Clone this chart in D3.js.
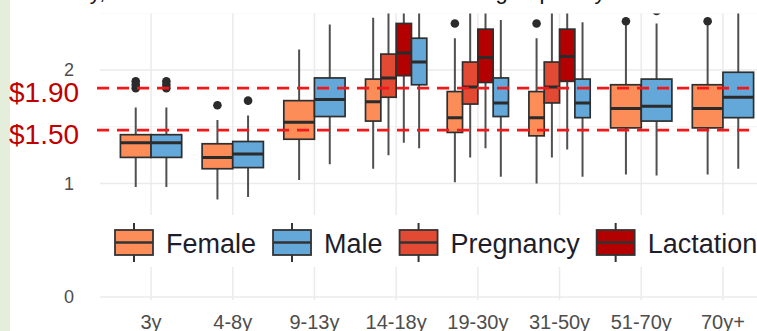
<!DOCTYPE html>
<html>
<head>
<meta charset="utf-8">
<script src="https://cdn.jsdelivr.net/npm/d3@7/dist/d3.min.js"></script>
<style>
  body { margin: 0; background: #fff; }
  svg { display: block; }
</style>
</head>
<body>
<div id="chart"></div>
<script>
var ageGroups = ["3y", "4-8y", "9-13y", "14-18y", "19-30y", "31-50y", "51-70y", "70y+"];
var seriesNames = ["Female", "Male", "Pregnancy", "Lactation"];
// order inside each age group, left to right
var dodgeOrder = ["Female", "Pregnancy", "Lactation", "Male"];

// [lower whisker, q1, median, q3, upper whisker] per age group
var femaleStats = [
  [0.97, 1.23, 1.36, 1.43, 1.67],
  [0.86, 1.13, 1.23, 1.35, 1.56],
  [1.03, 1.39, 1.54, 1.73, 2.18],
  [1.13, 1.55, 1.72, 1.92, 2.46],
  [1.01, 1.45, 1.58, 1.81, 2.28],
  [1.00, 1.42, 1.58, 1.81, 2.28],
  [1.08, 1.49, 1.66, 1.87, 2.40],
  [1.08, 1.49, 1.66, 1.87, 2.40]
];
var maleStats = [
  [0.97, 1.23, 1.36, 1.43, 1.67],
  [0.88, 1.14, 1.26, 1.37, 1.60],
  [1.17, 1.59, 1.74, 1.93, 2.40],
  [1.31, 1.87, 2.07, 2.28, 2.70],
  [1.06, 1.59, 1.71, 1.93, 2.44],
  [1.06, 1.58, 1.71, 1.92, 2.42],
  [1.07, 1.55, 1.68, 1.92, 2.41],
  [1.13, 1.58, 1.76, 1.98, 2.70]
];
var pregnancyStats = [null, null, null,
  [1.25, 1.76, 1.93, 2.14, 2.70],
  [1.23, 1.70, 1.85, 2.07, 2.70],
  [1.23, 1.71, 1.85, 2.07, 2.70],
  null, null];
var lactationStats = [null, null, null,
  [1.36, 1.95, 2.15, 2.41, 2.75],
  [1.31, 1.89, 2.11, 2.36, 2.75],
  [1.30, 1.90, 2.12, 2.36, 2.75],
  null, null];

var femaleOutliers = [[1.84, 1.87, 1.90], [1.69], [], [], [2.41], [2.41], [2.43], [2.43]];
var maleOutliers = [[1.84, 1.87, 1.90], [1.73], [], [], [], [], [2.52], []];

var seriesColours = ["#FC8D59", "#63A8D8", "#E34A33", "#B30000"];

var yBreaks = [0, 1, 2];
var yMinor = [0.5, 1.5, 2.5];

// reference price lines, where they sit on the axis, and their labels
var priceLevels = [1.84, 1.47];
var priceLabels = ["$1.90", "$1.50"];

var statsBySeries = {
  "Female": femaleStats, "Male": maleStats,
  "Pregnancy": pregnancyStats, "Lactation": lactationStats
};
var outliersBySeries = { "Female": femaleOutliers, "Male": maleOutliers };

var width = 757, height = 331;

var svg = d3.select("#chart").append("svg")
    .attr("width", width)
    .attr("height", height)
    .style("font-family", "'Liberation Sans', Arial, sans-serif");

var colour = d3.scaleOrdinal().domain(seriesNames).range(seriesColours);

var x = d3.scaleBand().domain(ageGroups).range([110.2, 763.8]).padding(0);
var y = d3.scaleLinear().domain([0, 2]).range([297, 70]);

// green slide edge
svg.append("rect").attr("x", 0).attr("y", 0).attr("width", 10).attr("height", height)
    .attr("fill", "#E4EEDB");

// title line above the plot, mostly cut off by the top edge
svg.append("text")
    .attr("x", 14).attr("y", -1)
    .attr("font-size", 22).attr("fill", "#111")
    .text("Cost/day, of the least-cost nutrient-rich diet when grouped by sex");

svg.append("defs").append("clipPath").attr("id", "plotclip")
  .append("rect").attr("x", 0).attr("y", 13.5).attr("width", width).attr("height", height);

var plot = svg.append("g").attr("clip-path", "url(#plotclip)");

// grid
plot.selectAll(".minor").data(yMinor).enter().append("line")
    .attr("x1", 100).attr("x2", width)
    .attr("y1", function (d) { return y(d); }).attr("y2", function (d) { return y(d); })
    .attr("stroke", "#F2F2F2").attr("stroke-width", 1);
plot.selectAll(".major").data(yBreaks).enter().append("line")
    .attr("x1", 100).attr("x2", width)
    .attr("y1", function (d) { return y(d); }).attr("y2", function (d) { return y(d); })
    .attr("stroke", "#EBEBEB").attr("stroke-width", 1.5);
plot.selectAll(".vgrid").data(ageGroups).enter().append("line")
    .attr("x1", function (d) { return x(d) + x.bandwidth() / 2; })
    .attr("x2", function (d) { return x(d) + x.bandwidth() / 2; })
    .attr("y1", 0).attr("y2", 300)
    .attr("stroke", "#EBEBEB").attr("stroke-width", 1.5);

// y labels
svg.selectAll(".ylab").data(yBreaks).enter().append("text")
    .attr("x", 74).attr("y", function (d) { return y(d); })
    .attr("dy", "0.36em").attr("text-anchor", "end")
    .attr("font-size", 18).attr("fill", "#4D4D4D")
    .text(function (d) { return d; });

// x labels (bottom of the text is cut by the frame)
svg.selectAll(".xlab").data(ageGroups).enter().append("text")
    .attr("x", function (d) { return x(d) + x.bandwidth() / 2; })
    .attr("y", 329).attr("text-anchor", "middle")
    .attr("font-size", 20).attr("fill", "#4D4D4D")
    .text(function (d) { return d; });

// build one record per box
var boxes = [];
ageGroups.forEach(function (g, i) {
    var present = dodgeOrder.filter(function (s) { return statsBySeries[s][i]; });
    var inner = d3.scaleBand().domain(present)
        .range([x(g) + x.bandwidth() * 0.125, x(g) + x.bandwidth() * 0.875]);
    present.forEach(function (s) {
        var st = statsBySeries[s][i];
        boxes.push({
            series: s, x0: inner(s), w: inner.bandwidth(),
            lo: st[0], q1: st[1], med: st[2], q3: st[3], hi: st[4],
            out: outliersBySeries[s] ? outliersBySeries[s][i] : []
        });
    });
});

var bx = plot.selectAll(".box").data(boxes).enter().append("g");

bx.append("line")
    .attr("x1", function (d) { return d.x0 + d.w / 2; })
    .attr("x2", function (d) { return d.x0 + d.w / 2; })
    .attr("y1", function (d) { return y(d.hi); })
    .attr("y2", function (d) { return y(d.lo); })
    .attr("stroke", "#505050").attr("stroke-width", 2);

bx.append("rect")
    .attr("x", function (d) { return d.x0; })
    .attr("width", function (d) { return d.w; })
    .attr("y", function (d) { return y(d.q3); })
    .attr("height", function (d) { return y(d.q1) - y(d.q3); })
    .attr("fill", function (d) { return colour(d.series); })
    .attr("stroke", "#2f2f2f").attr("stroke-width", 1.7);

bx.append("line")
    .attr("x1", function (d) { return d.x0; })
    .attr("x2", function (d) { return d.x0 + d.w; })
    .attr("y1", function (d) { return y(d.med); })
    .attr("y2", function (d) { return y(d.med); })
    .attr("stroke", "#2b2b2b").attr("stroke-width", 3);

bx.selectAll(".out").data(function (d) {
        return d.out.map(function (v) { return { cx: d.x0 + d.w / 2, v: v }; });
    }).enter().append("circle")
    .attr("cx", function (d) { return d.cx; })
    .attr("cy", function (d) { return y(d.v); })
    .attr("r", 4.3).attr("fill", "#2b2b2b");

// legend panel
svg.append("rect").attr("x", 100).attr("y", 215).attr("width", width - 100).attr("height", 52)
    .attr("fill", "#fff");

var lx = 115;
seriesNames.forEach(function (s) {
    var k = svg.append("g");
    k.append("line").attr("x1", lx + 19).attr("x2", lx + 19).attr("y1", 223).attr("y2", 262)
        .attr("stroke", "#333").attr("stroke-width", 2);
    k.append("rect").attr("x", lx).attr("y", 230).attr("width", 38).attr("height", 25)
        .attr("fill", colour(s)).attr("stroke", "#333").attr("stroke-width", 1.8);
    k.append("line").attr("x1", lx).attr("x2", lx + 38).attr("y1", 242.5).attr("y2", 242.5)
        .attr("stroke", "#333").attr("stroke-width", 2.5);
    var t = k.append("text").attr("x", lx + 51).attr("y", 252.5)
        .attr("font-size", 27).attr("fill", "#1d1d2b").text(s);
    lx += 51 + t.node().getComputedTextLength() + 17;
});

// price lines and labels
svg.selectAll(".price").data(priceLevels).enter().append("line")
    .attr("x1", 97).attr("x2", width)
    .attr("y1", function (d) { return y(d); }).attr("y2", function (d) { return y(d); })
    .attr("stroke", "#F01818").attr("stroke-width", 2.6)
    .attr("stroke-dasharray", "12,8");

svg.selectAll(".plab").data(priceLevels).enter().append("text")
    .attr("x", 9).attr("y", function (d) { return y(d) + 14; })
    .attr("font-size", 28).attr("fill", "#C00000")
    .text(function (d, i) { return priceLabels[i]; });
</script>
</body>
</html>
